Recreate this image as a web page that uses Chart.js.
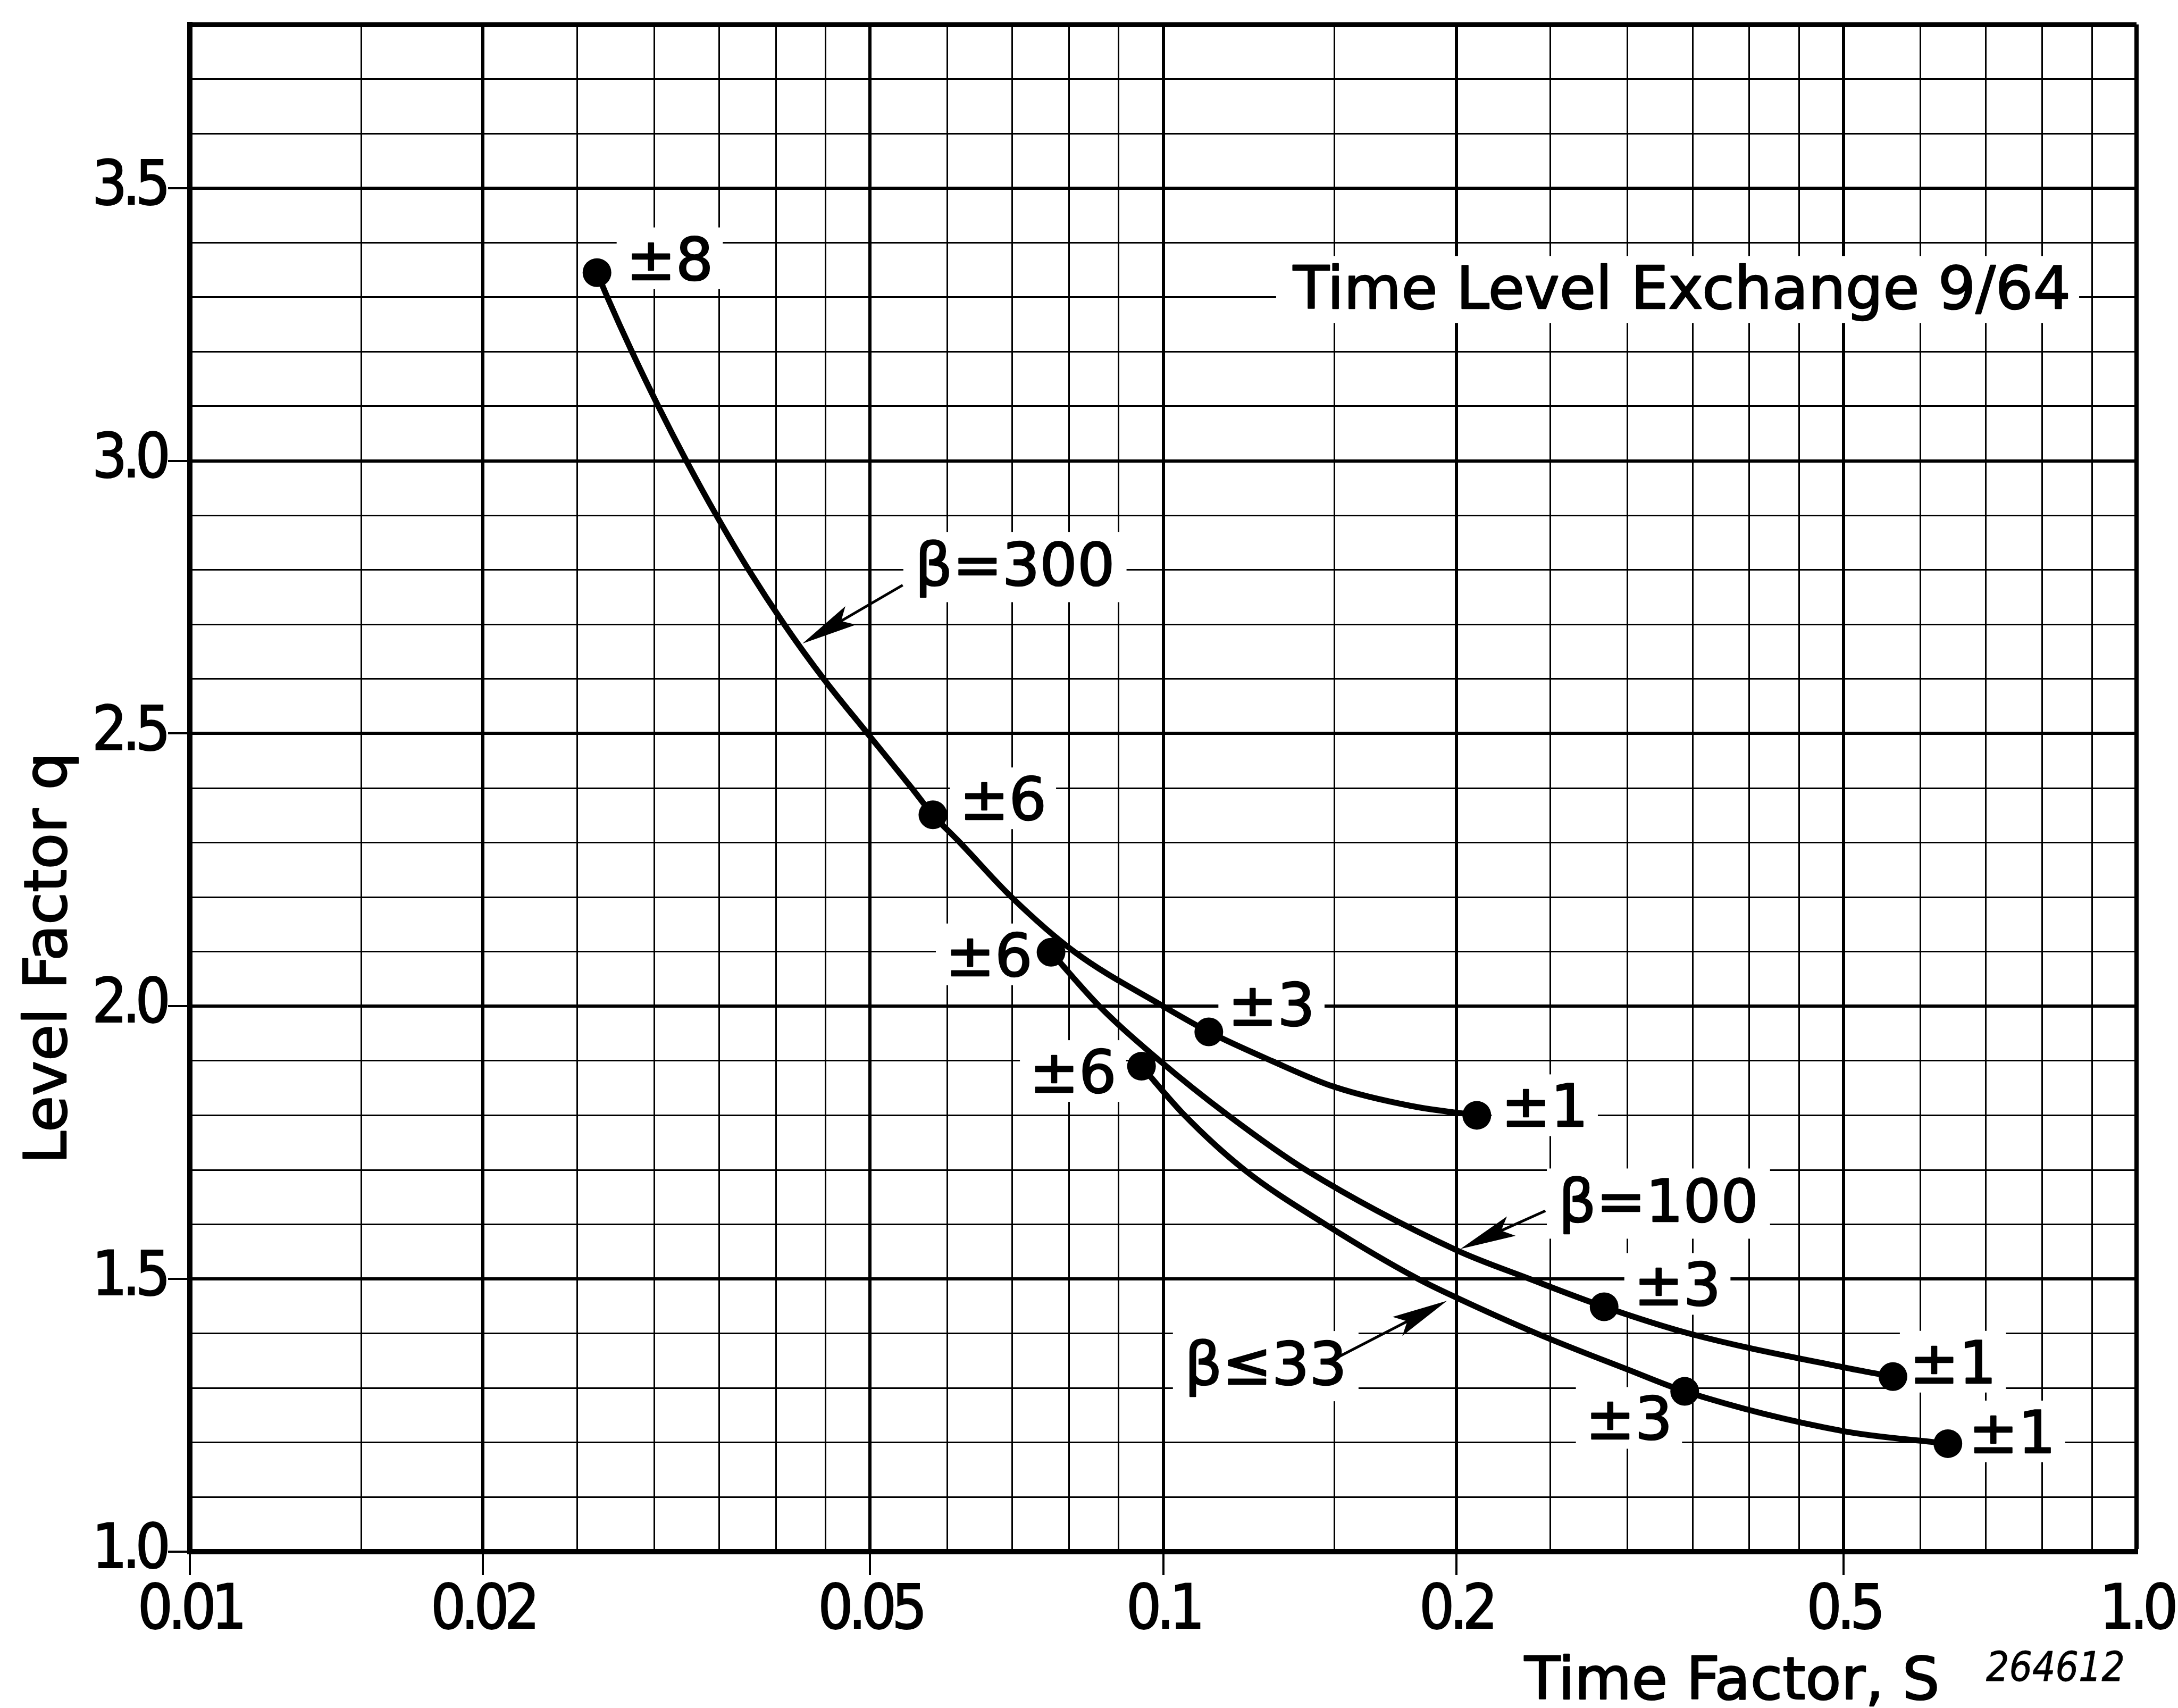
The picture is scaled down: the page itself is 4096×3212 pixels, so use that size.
<!DOCTYPE html>
<html>
<head>
<meta charset="utf-8">
<title>Time Level Exchange 9/64 – Level Factor q vs Time Factor S</title>
<script src="https://cdn.jsdelivr.net/npm/chart.js@4.4.1/dist/chart.umd.min.js"></script>
<style>
html,body{margin:0;padding:0;background:#fff;overflow:hidden;}
canvas{display:block;}
</style>
</head>
<body>
<canvas id="chart" width="4096" height="3212"></canvas>
<script>
// ================= DATA =================
// grid positions (log x axis) and labelled ticks
const xGridValues = [0.01,0.015,0.02,0.025,0.03,0.035,0.04,0.045,0.05,0.06,0.07,0.08,0.09,
                     0.1,0.15,0.2,0.25,0.3,0.35,0.4,0.45,0.5,0.6,0.7,0.8,0.9,1.0];
const xTickValues = [0.01,0.02,0.05,0.1,0.2,0.5,1.0];
const xTickLabels = ['0.01','0.02','0.05','0.1','0.2','0.5','1.0'];

const yGridValues = [1.0,1.1,1.2,1.3,1.4,1.5,1.6,1.7,1.8,1.9,2.0,2.1,2.2,2.3,2.4,2.5,
                     2.6,2.7,2.8,2.9,3.0,3.1,3.2,3.3,3.4,3.5,3.6,3.7,3.8];
const yTickValues = [1.0,1.5,2.0,2.5,3.0,3.5];
const yTickLabels = ['1.0','1.5','2.0','2.5','3.0','3.5'];

// curves (S = time factor, q = level factor)
const beta300S = [0.0262,0.02685,0.02846,0.03029,0.03237,0.03475,0.03751,0.04081,0.0448,0.0497,
                  0.05517,0.058,0.06184,0.06985,0.08103,0.100,0.1114,0.1292,0.150,0.180,0.210];
const beta300Q = [3.345, 3.30,   3.20,   3.10,   3.00,   2.90,   2.80,   2.70,   2.60,  2.50,
                  2.40,   2.351,2.30,   2.20,   2.10,   2.00, 1.953, 1.90,  1.852,1.817,1.800];

const beta100S = [0.0767,0.086,0.0992,0.1166,0.1401,0.200,0.238,0.2838,0.347,0.500,0.562];
const beta100Q = [2.099, 2.00, 1.90,  1.80,  1.70,  1.553,1.50, 1.449, 1.40, 1.338,1.321];

const beta33S  = [0.095,0.1052,0.1212,0.1468,0.1828,0.200,0.242,0.300,0.3434,0.500,0.640];
const beta33Q  = [1.890,1.80,  1.70,  1.60,  1.50,  1.466,1.40, 1.334,1.294, 1.221,1.198];

// marked points and their labels
const points300S = [0.0262,0.058,0.1114,0.210];
const points300Q = [3.345, 2.351,1.953, 1.800];
const points300Labels = ['±8','±6','±3','±1'];

const points100S = [0.0767,0.2838,0.562];
const points100Q = [2.099, 1.449, 1.321];
const points100Labels = ['±6','±3','±1'];

const points33S = [0.095,0.3434,0.640];
const points33Q = [1.890,1.294, 1.198];
const points33Labels = ['±6','±3','±1'];

// curve names with arrows (anchored in data space)
const betaText  = ['β=300','β=100','β≤33'];
const betaTextS = [0.0556,0.2548,0.1052];
const betaTextQ = [2.772, 1.605, 1.307];
const betaFromS = [0.054, 0.247, 0.150];
const betaFromQ = [2.772, 1.625, 1.3535];
const betaToS   = [0.0426,0.202, 0.1957];
const betaToQ   = [2.665, 1.555, 1.460];

const noteText = 'Time Level Exchange 9/64';
const noteS = 0.136, noteQ = 3.279;
const xTitle = 'Time Factor, S';
const yTitle = 'Level Factor q';
const drawingNo = '264612';

// ================= STYLE =================
const INK = '#000';
const TICK_FONT = '"Liberation Sans Narrow", "DejaVu Sans Condensed", "DejaVu Sans", sans-serif';
const LETTER_FONT = '"DejaVu Sans", sans-serif';
const LETTER_SIZE = 111;
const TICK_SIZE = 116;
const TICK_LETTER_SPACING = '-9px';
// label offsets from the marker centre: [dx, dy(centre of text), side]
const offsets300 = [[55,-27,'left'],[50,-31,'left'],[36,-52,'left'],[46,-19,'left']];
const offsets100 = [[-35,4,'right'],[56,-43,'left'],[31,-28,'left']];
const offsets33  = [[-47,9,'right'],[-23,50,'right'],[39,-23,'left']];
const xTickMarks = [0.01,0.02,0.05,0.1,0.2,0.5];

function isIn(list, v){ return list.some(t => Math.abs(t - v) < 1e-9 + 1e-6*Math.abs(t)); }

function curveDataset(S, Q){
  return { type:'line', data:S.map((s,i)=>({x:s,y:Q[i]})), borderColor:INK, borderWidth:11,
           pointRadius:0, pointHoverRadius:0, fill:false, cubicInterpolationMode:'monotone',
           borderCapStyle:'round', borderJoinStyle:'round', order:2 };
}
function markerDataset(S, Q){
  return { type:'line', data:S.map((s,i)=>({x:s,y:Q[i]})), showLine:false, pointRadius:27,
           pointHoverRadius:27, pointBackgroundColor:INK, pointBorderColor:INK, pointBorderWidth:0, order:1 };
}

const pointGroups = [
  {S:points300S, Q:points300Q, L:points300Labels, O:offsets300},
  {S:points100S, Q:points100Q, L:points100Labels, O:offsets100},
  {S:points33S,  Q:points33Q,  L:points33Labels,  O:offsets33}
];

function layoutItems(chart){
  const ctx = chart.ctx, xs = chart.scales.x, ys = chart.scales.y;
  const items = [];
  ctx.save();
  ctx.font = `${LETTER_SIZE}px ${LETTER_FONT}`;
  pointGroups.forEach(g => {
    g.S.forEach((s,i) => {
      const px = xs.getPixelForValue(s), py = ys.getPixelForValue(g.Q[i]);
      const [dx, dy, side] = g.O[i];
      const w = ctx.measureText(g.L[i]).width;
      const left = side === 'left' ? px + dx : px + dx - w;
      const mid = py + dy;
      items.push({text:g.L[i], x:left, y:mid + LETTER_SIZE*0.36, box:[left-18, mid-58, w+36, 116]});
    });
  });
  betaText.forEach((t,i) => {
    const left = xs.getPixelForValue(betaTextS[i]), base = ys.getPixelForValue(betaTextQ[i]);
    const w = ctx.measureText(t).width;
    items.push({text:t, x:left, y:base, box:[left-22, base-100, w+44, 132]});
  });
  {
    const left = xs.getPixelForValue(noteS), base = ys.getPixelForValue(noteQ);
    const w = ctx.measureText(noteText).width;
    items.push({text:noteText, x:left, y:base, box:[left-32, base-99, w+48, 126]});
  }
  ctx.restore();
  return items;
}

function drawArrow(ctx, x1, y1, x2, y2){
  const ang = Math.atan2(y2-y1, x2-x1);
  const ux = Math.cos(ang), uy = Math.sin(ang), nx = -uy, ny = ux;
  const L = 105, W = 20;
  ctx.lineWidth = 5;
  ctx.beginPath(); ctx.moveTo(x1,y1); ctx.lineTo(x2 - ux*L*0.7, y2 - uy*L*0.7); ctx.stroke();
  ctx.beginPath();
  ctx.moveTo(x2, y2);
  ctx.lineTo(x2 - ux*L + nx*W, y2 - uy*L + ny*W);
  ctx.lineTo(x2 - ux*L*0.8, y2 - uy*L*0.8);
  ctx.lineTo(x2 - ux*L - nx*W, y2 - uy*L - ny*W);
  ctx.closePath(); ctx.fill();
}

function inkText(ctx, text, x, y){
  ctx.fillText(text, x, y);
  ctx.strokeText(text, x, y);
}

const annotationPlugin = {
  id:'annotations',
  beforeDraw(chart){
    // tighter spacing for the narrow stencil-style tick numerals
    chart.ctx.letterSpacing = TICK_LETTER_SPACING;
  },
  beforeDatasetsDraw(chart){
    const ctx = chart.ctx;
    ctx.letterSpacing = '0px';
    ctx.save(); ctx.fillStyle = '#fff';
    layoutItems(chart).forEach(it => ctx.fillRect(...it.box));
    ctx.restore();
  },
  afterDatasetsDraw(chart){
    const ctx = chart.ctx, xs = chart.scales.x, ys = chart.scales.y;
    ctx.save();
    ctx.fillStyle = INK; ctx.strokeStyle = INK; ctx.lineJoin = 'round';
    ctx.font = `${LETTER_SIZE}px ${LETTER_FONT}`;
    ctx.textAlign = 'left'; ctx.textBaseline = 'alphabetic';
    ctx.lineWidth = 2.5;
    layoutItems(chart).forEach(it => inkText(ctx, it.text, it.x, it.y));
    betaText.forEach((t,i) => {
      drawArrow(ctx, xs.getPixelForValue(betaFromS[i]), ys.getPixelForValue(betaFromQ[i]),
                     xs.getPixelForValue(betaToS[i]),   ys.getPixelForValue(betaToQ[i]));
    });
    ctx.restore();
  },
  afterDraw(chart){
    const ctx = chart.ctx;
    ctx.save();
    ctx.letterSpacing = '0px';
    ctx.fillStyle = INK; ctx.strokeStyle = INK; ctx.lineJoin = 'round'; ctx.lineWidth = 2.5;
    // y axis title
    ctx.font = `${LETTER_SIZE}px ${LETTER_FONT}`;
    ctx.translate(124, 1802); ctx.rotate(-Math.PI/2);
    ctx.textAlign = 'center'; ctx.textBaseline = 'alphabetic';
    inkText(ctx, yTitle, 0, 0);
    ctx.setTransform(1,0,0,1,0,0);
    // x axis title
    ctx.font = `110px ${LETTER_FONT}`;
    ctx.textAlign = 'left';
    inkText(ctx, xTitle, 2867, 3195);
    // drawing number
    ctx.lineWidth = 0.8;
    ctx.font = `italic 76px "DejaVu Sans Condensed", "DejaVu Sans", sans-serif`;
    inkText(ctx, drawingNo, 3735, 3161);
    ctx.restore();
  }
};

new Chart(document.getElementById('chart'), {
  type:'line',
  data:{ datasets:[
    curveDataset(beta300S, beta300Q), curveDataset(beta100S, beta100Q), curveDataset(beta33S, beta33Q),
    markerDataset(points300S, points300Q), markerDataset(points100S, points100Q), markerDataset(points33S, points33Q)
  ]},
  options:{
    responsive:false, animation:false, devicePixelRatio:1, events:[],
    layout:{ padding:{top:46, right:78, bottom:0, left:0} },
    plugins:{ legend:{display:false}, tooltip:{enabled:false}, title:{display:false} },
    scales:{
      x:{
        type:'logarithmic', position:'bottom', min:0.01, max:1.0,
        afterBuildTicks(scale){ scale.ticks = xGridValues.map(v => ({value:v})); },
        afterFit(scale){ scale.height = 294; scale.paddingLeft = 0; scale.paddingRight = 0; },
        ticks:{ autoSkip:false, maxRotation:0, minRotation:0, padding:0, color:INK,
          textStrokeColor:INK, textStrokeWidth:2,
          font:{family:TICK_FONT, size:TICK_SIZE},
          callback(v){ const i = xTickValues.findIndex(t => Math.abs(t-v) < 1e-9 + 1e-6*t); return i >= 0 ? xTickLabels[i] : ''; } },
        grid:{ color:INK, drawTicks:true, tickLength:44, tickWidth:4,
          lineWidth(c){ const v = c.tick ? c.tick.value : null; if (v === null) return 3;
            if (Math.abs(v-1) < 1e-9) return 8; return isIn(xTickValues, v) ? 6 : 3; },
          tickColor(c){ return c.tick && isIn(xTickMarks, c.tick.value) ? INK : 'rgba(0,0,0,0)'; } },
        border:{ display:true, color:INK, width:10 }
      },
      y:{
        type:'linear', position:'left', min:1.0, max:3.8,
        afterBuildTicks(scale){ scale.ticks = yGridValues.map(v => ({value:v})); },
        afterFit(scale){ scale.width = 357; scale.paddingTop = 0; scale.paddingBottom = 0; },
        ticks:{ autoSkip:false, padding:4, color:INK, textStrokeColor:INK, textStrokeWidth:2,
          font:{family:TICK_FONT, size:TICK_SIZE},
          callback(v){ const i = yTickValues.findIndex(t => Math.abs(t-v) < 1e-6); return i >= 0 ? yTickLabels[i] : ''; } },
        grid:{ color:INK, drawTicks:true, tickLength:41, tickWidth:4,
          lineWidth(c){ const v = c.tick ? c.tick.value : null; if (v === null) return 3;
            if (Math.abs(v-3.8) < 1e-6) return 9; return isIn(yTickValues, v) ? 6 : 3; },
          tickColor(c){ return c.tick && isIn(yTickValues, c.tick.value) ? INK : 'rgba(0,0,0,0)'; } },
        border:{ display:true, color:INK, width:10 }
      }
    }
  },
  plugins:[annotationPlugin]
});
</script>
</body>
</html>
